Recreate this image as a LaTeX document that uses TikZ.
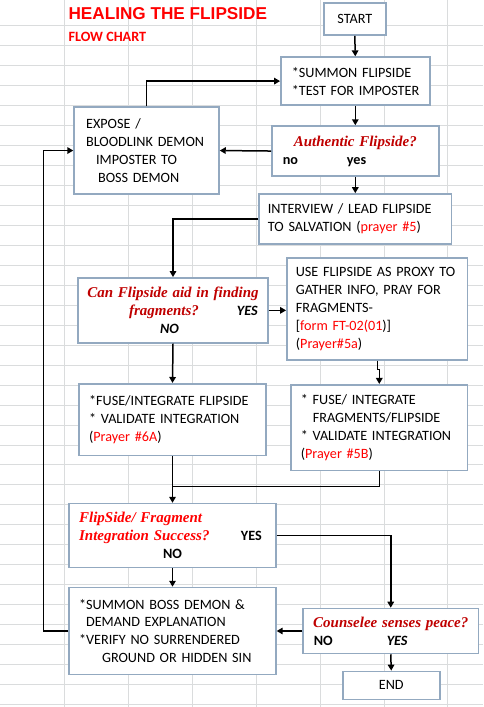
\documentclass[tikz,border=0pt]{standalone}
\usepackage{fontspec}
\setmainfont{Carlito}
\newfontfamily\qfont{Liberation Serif}
\newfontfamily\titlefont{Liberation Sans}
\usetikzlibrary{arrows.meta, calc}
\definecolor{boxline}{HTML}{93A9C0}
\definecolor{gridgray}{HTML}{DADCDD}
\definecolor{txtred}{HTML}{FF0000}
\definecolor{qred}{HTML}{C00000}
\newcommand{\qtext}[2][qred]{{\qfont\fontsize{15}{18}\selectfont\bfseries\itshape\color{#1}#2}}
\newcommand{\rtext}[1]{\textcolor{txtred}{#1}}

\begin{document}
\begin{tikzpicture}[
		x=1pt, y=-1pt,
		box/.style={
			draw=boxline,
			line width=1.6pt,
			fill=white,
			anchor=north west,
			align=left,
			inner ysep=0pt,
			font=\fontsize{14.2}{18}\selectfont
		},
		arr/.style={draw=black, line width=1.5pt, -{Triangle[length=6pt, width=6.5pt]}},
		link/.style={draw=black, line width=1.5pt}
		]
		
		% --- sheet grid ---
		\fill[white] (0,0) rectangle (483,707);
		\foreach \gx in {64,128,...,448}
			\draw[gridgray, line width=0.8pt] (\gx,0) -- (\gx,707);
		\foreach \gy in {25,45,...,705}
			\draw[gridgray, line width=0.8pt] (0,\gy) -- (483,\gy);
		\useasboundingbox (0,0) rectangle (483,707);
		
		% --- title ---
		\node[anchor=base west, inner sep=0pt, text=txtred,
			font=\titlefont\fontsize{17.2}{20}\selectfont\bfseries] (title) at (68,19) {HEALING THE FLIPSIDE};
		\node[anchor=base west, inner sep=0pt, text=txtred,
			font=\fontsize{14.2}{18}\selectfont\bfseries] (subtitle) at (68,41) {FLOW CHART};
		
		% --- right column ---
		\node[box, align=center, inner xsep=0pt, minimum width=62pt, minimum height=32pt] (start) at (323,2) {START};
		
		\node[box, text width=127pt, inner xsep=11pt, minimum height=48pt] (summon) at (280,56) {
			*SUMMON FLIPSIDE\\
			\mbox{{*}TEST FOR IMPOSTER}
		};
		
		\node[box, text width=145pt, inner xsep=11pt, minimum height=50pt] (auth) at (271,125) {
			\makebox[145pt]{\qtext{Authentic Flipside?}}\\
			\makebox[64pt][l]{\textbf{no}}\textbf{yes}
		};
		
		\node[box, text width=175pt, inner xsep=9pt, minimum height=50pt] (interview) at (258,193) {
			\mbox{INTERVIEW / LEAD FLIPSIDE}\\
			TO SALVATION (\rtext{prayer \#5})
		};
		
		\node[box, text width=163pt, inner xsep=9pt, minimum height=102pt] (proxy) at (286,257) {
			\mbox{USE FLIPSIDE AS PROXY TO}\\
			GATHER INFO, PRAY FOR\\
			FRAGMENTS-\\
			{[}\rtext{form FT-02(01}){]}\\
			(\rtext{Prayer\#5a})
		};
		
		\node[box, text width=157pt, inner xsep=10pt, minimum height=86pt] (fuse2) at (290,384) {
			{*} FUSE/ INTEGRATE\\
			\hspace*{12pt}FRAGMENTS/FLIPSIDE\\
			\mbox{{*} VALIDATE INTEGRATION}\\
			(\rtext{Prayer \#5B})
		};
		
		\node[box, text width=154pt, inner xsep=11pt, minimum height=45pt] (couns) at (302,608) {
			\makebox[154pt]{\qtext{Counselee senses peace?}}\\
			\makebox[73pt][l]{\textbf{NO}}\textbf{\textit{YES}}
		};
		
		\node[box, align=center, inner xsep=0pt, minimum width=97pt, minimum height=28pt] (finish) at (342,671) {END};
		
		% --- left column ---
		\node[box, text width=121pt, inner xsep=12pt, minimum height=87pt] (expose) at (73,106) {
			EXPOSE /\\
			\mbox{BLOODLINK DEMON}\\
			\hspace*{10pt}IMPOSTER TO\\
			\hspace*{12pt}BOSS DEMON
		};
		
		\node[box, text width=174pt, inner xsep=8pt, minimum height=65pt] (can) at (77,277) {
			\makebox[174pt]{\qtext{Can Flipside aid in finding}}\\
			\hspace*{43pt}\makebox[108pt][l]{\qtext{fragments?}}\textbf{\textit{YES}}\\
			\hspace*{74pt}\textbf{\textit{NO}}
		};
		
		\node[box, text width=167pt, inner xsep=10pt, minimum height=72pt] (fuse1) at (78,383) {
			\mbox{*FUSE/INTEGRATE FLIPSIDE}\\
			{*} VALIDATE INTEGRATION\\
			(\rtext{Prayer \#6A})
		};
		
		\node[box, text width=187pt, inner xsep=10pt, minimum height=64pt] (success) at (68,503) {
			\qtext[txtred]{FlipSide/ Fragment}\\
			\makebox[162pt][l]{\qtext[txtred]{Integration Success?}}\textbf{YES}\\
			\hspace*{84pt}\textbf{NO}
		};
		
		\node[box, text width=187pt, inner xsep=10pt, minimum height=87pt] (boss) at (68,587) {
			\mbox{*SUMMON BOSS DEMON \&}\\
			\hspace*{7pt}DEMAND EXPLANATION\\
			\mbox{{*}VERIFY NO SURRENDERED}\\
			\hspace*{23pt}\mbox{GROUND OR HIDDEN SIN}
		};
		
		% --- connectors ---
		\draw[arr] (start.south) -- (summon.north);
		\draw[arr] (expose.north) |- (summon.west);
		\draw[arr] (summon.south) -- (auth.north);
		\draw[arr] (auth.west) -- (expose.east);
		\draw[arr] (auth.south) -- (interview.north);
		\draw[arr] (interview.west) -| (can.north);
		\draw[arr] (can.east) -- (can.east -| proxy.west);
		\draw[arr] (can.south) -- (fuse1.north);
		\draw[arr] (proxy.south) -- ++(0,9) -| (fuse2.north);
		\coordinate (merge) at ($(fuse1.south)!0.65!(success.north)$);
		\draw[link] (fuse2.south) |- (merge);
		\draw[arr] (fuse1.south) -- (success.north);
		\draw[arr] (success.east) -| (couns.north);
		\draw[arr] (success.south) -- (boss.north);
		\draw[arr] (couns.west) -- (boss.east);
		\draw[arr] (boss.west) -- ++(-25,0) |- (expose.west);
		\draw[arr] (couns.south) -- (finish.north);
		
	\end{tikzpicture}
\end{document}
